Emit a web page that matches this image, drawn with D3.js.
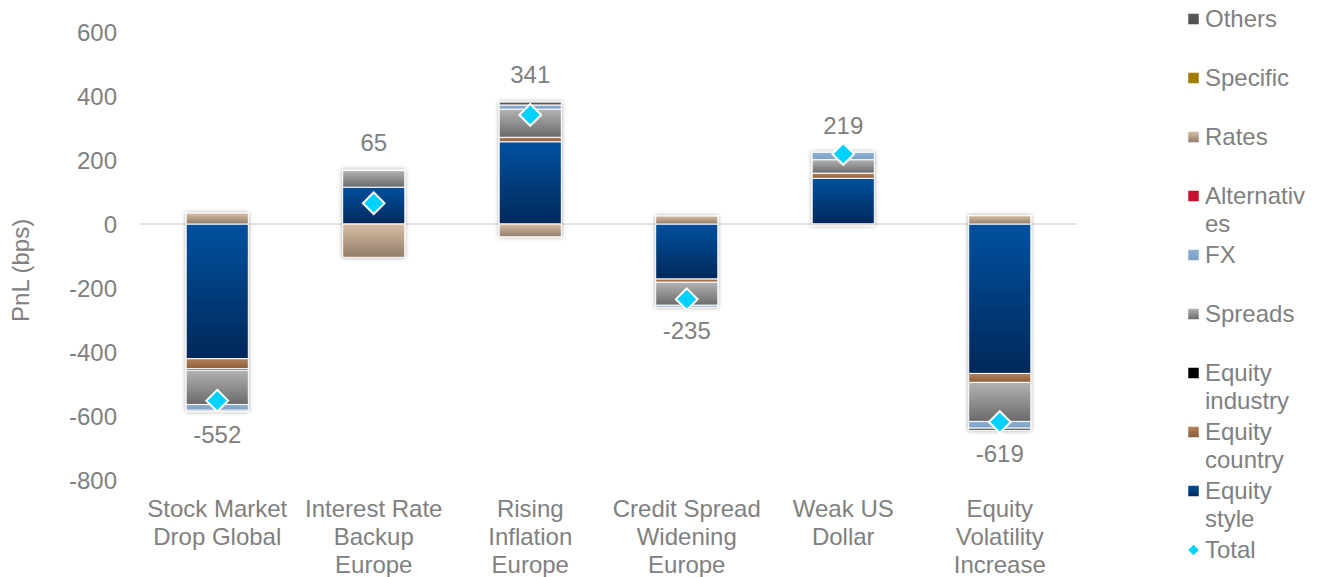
<!DOCTYPE html>
<html>
<head>
<meta charset="utf-8">
<script src="https://cdn.jsdelivr.net/npm/d3@7/dist/d3.min.js"></script>
<style>
  html, body { margin: 0; padding: 0; background: #fff; }
  svg { display: block; font-family: "Liberation Sans", Arial, sans-serif; }
</style>
</head>
<body>
<svg id="chart" width="1322" height="577"></svg>
<script>
// Scenario categories (wrapped label lines)
const categories = [
  ["Stock Market", "Drop Global"],
  ["Interest Rate", "Backup", "Europe"],
  ["Rising", "Inflation", "Europe"],
  ["Credit Spread", "Widening", "Europe"],
  ["Weak US", "Dollar"],
  ["Equity", "Volatility", "Increase"]
];
const catKeys = categories.map(c => c.join(" "));

// PnL contribution per risk factor (bps), one value per scenario
const equityStyle    = [-421, 115, 257, -172, 143, -467];
const equityCountry  = [ -31,   0,  14,  -10,  16,  -28];
const equityIndustry = [  -5,   0,   0,    0,   0,    0];
const spreads        = [-107,  52,  88,  -72,  42, -122];
const fx             = [ -18,   0,  13,   -6,  23,  -21];
const alternatives   = [   0,   0,   0,    0,   0,    0];
const rates          = [  34,-104, -40,   25,  -5,   26];
const specific       = [   0,   0,   0,    0,   0,    0];
const others         = [  -4,   2,   9,    0,   0,   -7];

// Total PnL per scenario
const totals = [-552, 65, 341, -235, 219, -619];

// Y-axis ticks
const yTicks = [600, 400, 200, 0, -200, -400, -600, -800];

// Series in stacking order (first = nearest to zero)
const series = [
  { key: "Equity style",    legend: ["Equity", "style"],    values: equityStyle,    fill: ["#00519f", "#00285a"] },
  { key: "Equity country",  legend: ["Equity", "country"],  values: equityCountry,  fill: ["#b5825a", "#8c5e39"] },
  { key: "Equity industry", legend: ["Equity", "industry"], values: equityIndustry, fill: ["#000000", "#000000"] },
  { key: "Spreads",         legend: ["Spreads"],            values: spreads,        fill: ["#b3b3b3", "#6a6a6a"] },
  { key: "FX",              legend: ["FX"],                 values: fx,             fill: ["#8db0d2", "#7aa0c6"] },
  { key: "Alternatives",    legend: ["Alternativ", "es"],   values: alternatives,   fill: ["#c8102e", "#c8102e"] },
  { key: "Rates",           legend: ["Rates"],              values: rates,          fill: ["#d8bea5", "#927c69"] },
  { key: "Specific",        legend: ["Specific"],           values: specific,       fill: ["#a07c00", "#a07c00"] },
  { key: "Others",          legend: ["Others"],             values: others,         fill: ["#5a5a5a", "#505050"] }
];

const textColor = "#808080";
const fontSize = 24;
const svg = d3.select("#chart");
const defs = svg.append("defs");

// Soft outer shadow used on the bars
const shadow = defs.append("filter").attr("id", "barShadow")
  .attr("x", "-20%").attr("y", "-20%").attr("width", "140%").attr("height", "140%");
shadow.append("feDropShadow").attr("dx", 0).attr("dy", 0)
  .attr("stdDeviation", 2.2).attr("flood-color", "#000").attr("flood-opacity", 0.35);

// Vertical gradients per series
series.forEach((s, i) => {
  const g = defs.append("linearGradient").attr("id", "grad" + i)
    .attr("x1", 0).attr("y1", 0).attr("x2", 0).attr("y2", 1);
  g.append("stop").attr("offset", "0%").attr("stop-color", s.fill[0]);
  g.append("stop").attr("offset", "100%").attr("stop-color", s.fill[1]);
});

// Scales
const x = d3.scaleBand().domain(catKeys).range([140, 1077])
  .paddingInner(0.603).paddingOuter(0.295);
const y = d3.scaleLinear().domain([-800, 600]).range([480, 32]);

// Stack data
const rows = catKeys.map((k, i) => {
  const r = { cat: k };
  series.forEach(s => { r[s.key] = s.values[i]; });
  return r;
});
const stacked = d3.stack().keys(series.map(s => s.key))
  .offset(d3.stackOffsetDiverging)(rows);

// Y axis labels (plain hyphen for negatives)
const yAxis = d3.axisLeft(y).tickValues(yTicks).tickSize(0).tickPadding(0)
  .tickFormat(d => String(d));
const yg = svg.append("g").attr("transform", "translate(117,0)").call(yAxis);
yg.select(".domain").remove();
yg.selectAll("text").attr("fill", textColor).attr("font-size", fontSize)
  .attr("font-family", "'Liberation Sans', Arial, sans-serif").attr("dy", "0.35em");

// Y axis title
svg.append("text")
  .attr("transform", `translate(29,${y(-145)}) rotate(-90)`)
  .attr("text-anchor", "middle")
  .attr("fill", textColor).attr("font-size", fontSize)
  .text("PnL (bps)");

// Zero line
svg.append("line")
  .attr("x1", 140).attr("x2", 1077)
  .attr("y1", y(0)).attr("y2", y(0))
  .attr("stroke", "#d9d9d9").attr("stroke-width", 1.5);

// Bars
const barsG = svg.append("g").attr("filter", "url(#barShadow)");
stacked.forEach((layer, si) => {
  barsG.append("g").selectAll("rect")
    .data(layer.filter(d => d[1] - d[0] !== 0))
    .join("rect")
    .attr("x", d => x(d.data.cat))
    .attr("width", x.bandwidth())
    .attr("y", d => y(d[1]))
    .attr("height", d => Math.abs(y(d[0]) - y(d[1])))
    .attr("fill", `url(#grad${si})`)
    .attr("stroke", "#ffffff").attr("stroke-width", 1);
});

// Stack extents for total labels
const ext = catKeys.map((k, i) => {
  let pos = 0, neg = 0;
  series.forEach(s => { const v = s.values[i]; if (v > 0) pos += v; else neg += v; });
  return { pos, neg };
});

// Total markers
const diamond = d3.symbol().type(d3.symbolDiamond2).size(300);
svg.append("g").selectAll("path")
  .data(totals)
  .join("path")
  .attr("d", diamond)
  .attr("transform", (d, i) => `translate(${x(catKeys[i]) + x.bandwidth() / 2},${y(d)})`)
  .attr("fill", "#00d2ff").attr("stroke", "#ffffff").attr("stroke-width", 2);

// Total value labels
svg.append("g").selectAll("text")
  .data(totals)
  .join("text")
  .attr("x", (d, i) => x(catKeys[i]) + x.bandwidth() / 2)
  .attr("y", (d, i) => d >= 0 ? y(ext[i].pos) - 27 : y(ext[i].neg) + 23)
  .attr("dy", "0.35em")
  .attr("text-anchor", "middle")
  .attr("fill", textColor).attr("font-size", fontSize)
  .text(d => String(d));

// Category labels
const catG = svg.append("g").selectAll("text")
  .data(categories)
  .join("text")
  .attr("text-anchor", "middle")
  .attr("fill", textColor).attr("font-size", fontSize)
  .attr("transform", (d, i) => `translate(${x(catKeys[i]) + x.bandwidth() / 2},516.5)`);
catG.selectAll("tspan")
  .data(d => d)
  .join("tspan")
  .attr("x", 0)
  .attr("y", (d, j) => j * 28)
  .text(d => d);

// Legend (top to bottom: reverse stacking order, then Total)
const legendItems = series.slice().reverse().map((s, i) => ({ label: s.legend, fill: `url(#grad${series.length - 1 - i})`, type: "rect" }));
legendItems.push({ label: ["Total"], fill: "#00d2ff", type: "diamond" });

const lg = svg.append("g").selectAll("g")
  .data(legendItems)
  .join("g")
  .attr("transform", (d, i) => `translate(1188,${19 + i * 59})`);
lg.filter(d => d.type === "rect").append("rect")
  .attr("x", 0).attr("y", -5.5).attr("width", 11).attr("height", 11)
  .attr("fill", d => d.fill).attr("stroke", "#fff").attr("stroke-width", 0.5);
lg.filter(d => d.type === "diamond").append("path")
  .attr("d", d3.symbol().type(d3.symbolDiamond2).size(70))
  .attr("transform", "translate(5.5,0)")
  .attr("fill", d => d.fill);
const lt = lg.append("text")
  .attr("fill", textColor).attr("font-size", fontSize);
lt.selectAll("tspan")
  .data(d => d.label)
  .join("tspan")
  .attr("x", 17)
  .attr("y", (d, j) => j * 28)
  .attr("dy", "0.35em")
  .text(d => d);
</script>
</body>
</html>
